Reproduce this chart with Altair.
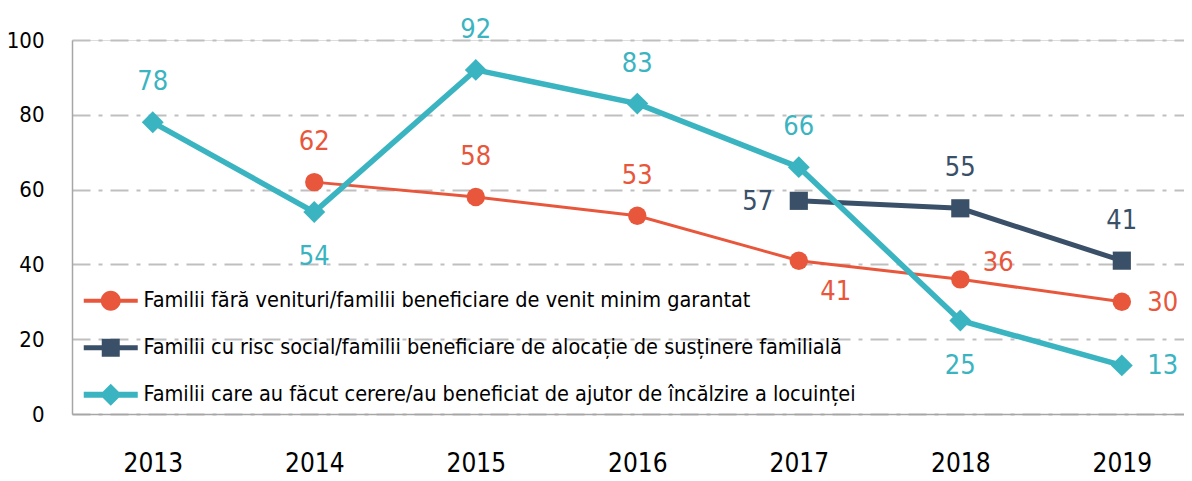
import altair as alt
import pandas as pd

# ---- data ----
years = [2013, 2014, 2015, 2016, 2017, 2018, 2019]
series_names = [
    "Familii fără venituri/familii beneficiare de venit minim garantat",
    "Familii cu risc social/familii beneficiare de alocație de susținere familială",
    "Familii care au făcut cerere/au beneficiat de ajutor de încălzire a locuinței",
]
venit_minim = [None, 62, 58, 53, 41, 36, 30]
alocatie = [None, None, None, None, 57, 55, 41]
incalzire = [78, 54, 92, 83, 66, 25, 13]
y_ticks = [0, 20, 40, 60, 80, 100]

# ---- styles ----
FONT = "DejaVu Sans Condensed, DejaVu Sans, sans-serif"
colors = ["#E8573C", "#3A5068", "#3BB4C1"]
shapes = ["circle", "square", "diamond"]
marker_sizes = [340, 330, 480]
line_widths = [3, 5, 5.5]
placements = [
    [None, "above", "above", "above", "below_right", "right_up", "right"],
    [None, None, None, None, "left", "above", "above"],
    ["above", "below", "above", "above", "above", "below", "right"],
]
offsets = {
    "above": (0, -40),
    "below": (0, 45),
    "below_right": (37, 31),
    "right_up": (38, -16),
    "right": (41, 1),
    "left": (-41, 1),
}
legend_paths = [
    "M-2.7,-0.2 L2.7,-0.2 L2.7,0.2 L-2.7,0.2 Z M1,0 A1,1 0 1 1 -1,0 A1,1 0 1 1 1,0 Z",
    "M-2.7,-0.26 L2.7,-0.26 L2.7,0.26 L-2.7,0.26 Z M-0.9,-0.9 L0.9,-0.9 L0.9,0.9 L-0.9,0.9 Z",
    "M-2.7,-0.3 L2.7,-0.3 L2.7,0.3 L-2.7,0.3 Z M0,-1.1 L1.1,0 L0,1.1 L-1.1,0 Z",
]

rows = []
for si, vals in enumerate([venit_minim, alocatie, incalzire]):
    for yi, (yr, v) in enumerate(zip(years, vals)):
        if v is not None:
            rows.append({"year": yr, "value": v, "sid": si,
                         "series": series_names[si],
                         "place": placements[si][yi]})
df = pd.DataFrame(rows)

x_enc = alt.X(
    "year:Q",
    scale=alt.Scale(domain=[2012.5, 2019.385], nice=False, zero=False),
    axis=alt.Axis(values=years, format="d", grid=False, ticks=False,
                  labelPadding=36, labelFontSize=26, title=None,
                  domainColor="#a6a6a6", domainWidth=1.5, labelColor="#000000",
                  labelFont=FONT),
)
y_enc = alt.Y(
    "value:Q",
    scale=alt.Scale(domain=[0, 100], nice=False),
    axis=alt.Axis(values=y_ticks, grid=True, gridDash=[18, 8, 4, 8],
                  gridColor="#bfbfbf", gridWidth=2, ticks=False,
                  labelPadding=28, labelFontSize=22, title=None,
                  domainColor="#a6a6a6", domainWidth=1.5, labelColor="#000000",
                  labelFont=FONT),
)

base = alt.Chart(df)
layers = []
for si in range(3):
    sub = base.transform_filter(alt.datum.sid == si)
    layers.append(sub.mark_line(color=colors[si], strokeWidth=line_widths[si]).encode(x=x_enc, y=y_enc))
    layers.append(sub.mark_point(filled=True, opacity=1, color=colors[si], shape=shapes[si],
                                 size=marker_sizes[si]).encode(x=x_enc, y=y_enc))
for si in range(3):
    for pname, (dx, dy) in offsets.items():
        sub = base.transform_filter((alt.datum.sid == si) & (alt.datum.place == pname))
        layers.append(sub.mark_text(color=colors[si], font=FONT, fontSize=27, dx=dx, dy=dy,
                                    align="center", baseline="middle")
                      .encode(x=x_enc, y=y_enc, text="value:Q"))

legend_opts = dict(orient="none", legendX=28, legendY=250, title=None,
                   labelFont=FONT, labelFontSize=21.5, labelLimit=2000,
                   labelColor="#000000", rowPadding=24, padding=0,
                   symbolSize=400, symbolStrokeWidth=0, labelOffset=22)
legend_layer = base.transform_filter("false").mark_point(filled=True, opacity=1, size=400).encode(
    x=x_enc, y=y_enc,
    color=alt.Color("series:N", scale=alt.Scale(domain=series_names, range=colors),
                    legend=alt.Legend(**legend_opts)),
    shape=alt.Shape("series:N", scale=alt.Scale(domain=series_names, range=legend_paths),
                    legend=alt.Legend(**legend_opts)),
)
layers.append(legend_layer)

chart = alt.layer(*layers).properties(
    width=1112, height=374,
    autosize=alt.AutoSizeParams(type="none"),
    padding={"left": 64, "top": 32, "right": 0, "bottom": 66},
).configure_view(stroke=None).configure(font=FONT, background="white")

chart.save("out.html", embed_options={"renderer": "svg", "actions": False})
